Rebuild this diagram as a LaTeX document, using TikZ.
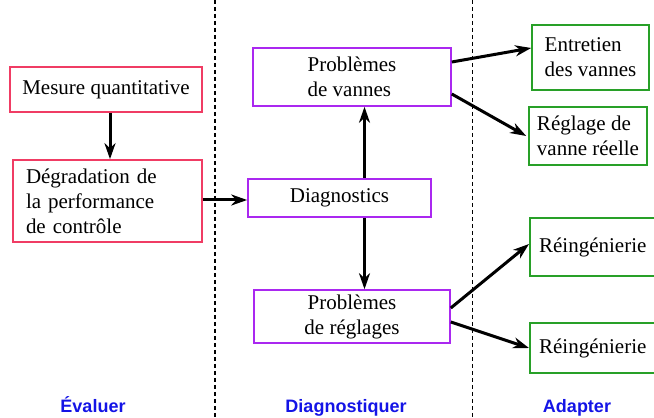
\documentclass[tikz,border=0pt]{standalone}
\usepackage{fontspec}
\setmainfont{Liberation Serif}
\setsansfont{Liberation Sans}
\usetikzlibrary{arrows.meta}
\definecolor{evalred}{RGB}{240,60,100}
\definecolor{diagviolet}{RGB}{170,40,240}
\definecolor{adaptgreen}{RGB}{40,160,40}
\definecolor{phaseblue}{RGB}{20,20,230}

\begin{document}
\begin{tikzpicture}[x=1pt, y=1pt,
  box/.style = {draw, line width=1.6pt, inner sep=0pt, font=\fontsize{21}{25}\selectfont},
  evalbox/.style = {box, draw=evalred},
  diagbox/.style = {box, draw=diagviolet},
  adaptbox/.style = {box, draw=adaptgreen},
  flow/.style = {line width=3pt, -{Stealth[length=16pt, width=11pt, inset=5pt]}},
  phase/.style = {font=\sffamily\bfseries\fontsize{18}{20}\selectfont, text=phaseblue, anchor=base}]
\useasboundingbox (0,0) rectangle (654,418);
% separations
\draw[line width=1.6pt, dash pattern=on 4pt off 3pt] (215,418) -- (215,0);
\draw[line width=0.9pt, dash pattern=on 4pt off 3pt] (472,418) -- (472,0);
% evaluer
\node[evalbox, minimum width=192pt, minimum height=45pt] (mesure) at (106,328.5) {Mesure quantitative};
\node[evalbox, minimum width=189pt, minimum height=82pt, text width=163pt, align=left] (degrad) at (107.5,217) {D\'egradation de\\la performance\\de contr\^ole};
% diagnostiquer
\node[diagbox, minimum width=198pt, minimum height=58pt, align=left] (vannes) at (352,341) {Probl\`emes\\de vannes};
\node[diagbox, minimum width=183pt, minimum height=38pt] (diag) at (339.5,220) {Diagnostics};
\node[diagbox, minimum width=196pt, minimum height=53pt, align=center] (reglages) at (352,101.5) {Probl\`emes\\de r\'eglages};
% adapter
\node[adaptbox, minimum width=117pt, minimum height=65pt, align=left] (entretien) at (590.5,360.5) {Entretien\\des vannes};
\node[adaptbox, minimum width=118pt, minimum height=58pt, align=left] (reglage) at (588,282) {R\'eglage de\\vanne r\'eelle};
\node[adaptbox, minimum width=134pt, minimum height=58pt, anchor=west] (reingA) at (529,171) {\hspace*{-8pt}R\'eing\'enierie};
\node[adaptbox, minimum width=134pt, minimum height=50pt, anchor=west] (reingB) at (529,70) {\hspace*{-8pt}R\'eing\'enierie};
% fleches
\draw[flow] ([xshift=4pt]mesure.south) -- ([xshift=4pt]mesure.south |- degrad.north);
\draw[flow] ([yshift=1pt]degrad.east) -- ([yshift=1pt]degrad.east -| diag.west);
\draw[flow] ([xshift=25pt]diag.north) -- ([xshift=25pt]diag.north |- vannes.south);
\draw[flow] ([xshift=25pt]diag.south) -- ([xshift=25pt]diag.south |- reglages.north);
\draw[flow] ([yshift=15pt]vannes.east) -- ([yshift=9.5pt]entretien.west);
\draw[flow] ([yshift=-17pt]vannes.east) -- ([xshift=-2pt]reglage.west);
\draw[flow] ([yshift=8.5pt]reglages.east) -- ([yshift=3pt]reingA.west);
\draw[flow] ([yshift=-5.5pt]reglages.east) -- (reingB.west);
% phases
\node[phase] (evaluer) at (93,5) {\'Evaluer};
\node[phase] (diagnostiquer) at (346,5) {Diagnostiquer};
\node[phase] (adapter) at (577,5) {Adapter};
\end{tikzpicture}
\end{document}
